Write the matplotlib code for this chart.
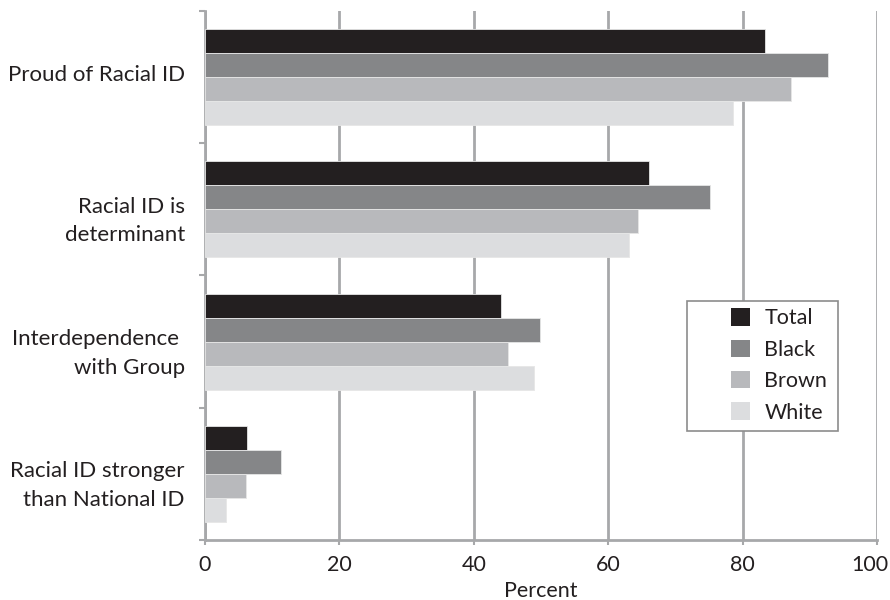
import numpy as np
import matplotlib
matplotlib.use("Agg")
import matplotlib.pyplot as plt
from matplotlib.patches import Rectangle
from matplotlib.ticker import FixedLocator

plt.rcParams['font.family'] = ['Lato', 'DejaVu Sans']

categories = ["Proud of Racial ID", "Racial ID is\ndeterminant",
              "Interdependence \nwith Group", "Racial ID stronger\nthan National ID"]
groups = ["Total", "Black", "Brown", "White"]
total = [83.4, 66.1, 44.1, 6.3]
black = [92.7, 75.2, 49.9, 11.3]
brown = [87.2, 64.4, 45.1, 6.1]
white = [78.6, 63.1, 48.9, 3.1]
xticks = [0, 20, 40, 60, 80, 100]

colors = ["#231f20", "#858688", "#b8b9bc", "#dcdddf"]
grid_col = "#a7a8aa"
text_col = "#231f20"
fs = 15.5

fig = plt.figure(figsize=(8.9, 6.0), dpi=100)
ax = fig.add_axes([0.2303, 0.1, 0.7551, 0.8817])

n = len(categories)
ypos = np.arange(n)[::-1]  # first category on top
h = 0.1815
offsets = [1.5 * h, 0.5 * h, -0.5 * h, -1.5 * h]
series = [total, black, brown, white]
for vals, off, col, name in zip(series, offsets, colors, groups):
    ax.barh(ypos + off, vals, height=h, color=col, label=name,
            edgecolor="#e6e6e6", linewidth=0.6, zorder=3)

ax.set_xlim(0, 100)
ax.set_ylim(-0.5, n - 0.5)
ax.set_xticks(xticks)
labels = [str(t) for t in xticks]
labels[-1] = ""
ax.set_xticklabels(labels, fontsize=fs, color=text_col)
# last label nudged left so it stays inside the figure
ax.annotate(str(xticks[-1]), xy=(xticks[-1], 0), xycoords=('data', 'axes fraction'),
            xytext=(-5, -10.6), textcoords='offset points', ha='center', va='top',
            fontsize=fs, color=text_col, annotation_clip=False)
ax.xaxis.grid(True, color=grid_col, linewidth=2, zorder=0)
ax.set_axisbelow(True)

# label positions: one-line labels sit a bit high, two-line ones a bit low
label_shift = np.array([0.03 if "\n" not in c else -0.04 for c in categories])
ax.set_yticks(ypos + label_shift)
ax.set_yticklabels(categories, fontsize=16, color=text_col, linespacing=1.55)
ax.tick_params(axis='y', which='major', length=0, pad=14.5)
ax.yaxis.set_minor_locator(FixedLocator(np.arange(-0.5, n, 1.0)))
ax.tick_params(axis='y', which='minor', length=4, width=1.5, color=grid_col)
ax.tick_params(axis='x', which='major', length=3.6, width=1.5, color=grid_col, pad=7)

for side in ("top", "right"):
    ax.spines[side].set_visible(False)
for side in ("left", "bottom"):
    ax.spines[side].set_color(grid_col)
    ax.spines[side].set_linewidth(2)

ax.set_xlabel("Percent", fontsize=fs, color=text_col, labelpad=4.5)

# legend box drawn separately so the entries can sit toward its right side
ax.add_patch(Rectangle((0.7173, 0.2061), 0.2247, 0.2463, transform=ax.transAxes,
                       facecolor="white", edgecolor="#8c8c8c", linewidth=1.2,
                       zorder=4))
leg = ax.legend(loc="upper right", bbox_to_anchor=(0.942, 0.4584),
                fontsize=fs, frameon=False, handlelength=0.87, handleheight=0.87,
                handletextpad=0.66, labelspacing=0.52, borderpad=0.5,
                borderaxespad=0)
leg.set_zorder(5)
for t in leg.get_texts():
    t.set_color(text_col)
for p in leg.get_patches():
    p.set_edgecolor("none")

fig.savefig("out.png", dpi=100)
